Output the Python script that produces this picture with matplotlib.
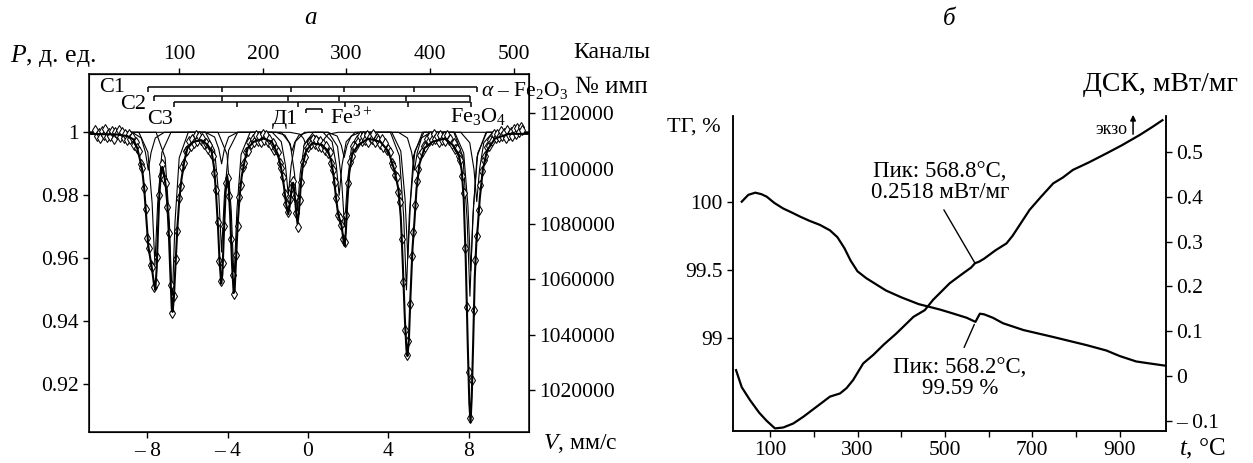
import numpy as np
import matplotlib
matplotlib.use("Agg")
import matplotlib.pyplot as plt

plt.rcParams['font.family'] = ['Liberation Serif', 'DejaVu Serif']
plt.rcParams['mathtext.fontset'] = 'custom'
plt.rcParams['mathtext.rm'] = 'Liberation Serif'
plt.rcParams['mathtext.it'] = 'Liberation Serif:italic'
plt.rcParams['font.size'] = 15

# ---------------- (a) Mossbauer spectrum ----------------
# channel -> velocity calibration (read from the two scales)
CH_V0 = -10.585
CH_DV = 0.04167
channels = np.arange(0, 512, 2)

exp_p = [
    1.0007, 0.9987, 0.9999, 0.9981, 1.0004, 0.9992, 1.0010, 0.9984, 0.9997, 0.9989, 1.0005, 0.9980, 1.0001, 0.9993, 1.0008, 0.9986,
    1.0002, 0.9982, 0.9994, 0.9975, 0.9993, 0.9979, 0.9986, 0.9961, 0.9968, 0.9949, 0.9941, 0.9898, 0.9886, 0.9822, 0.9757, 0.9665,
    0.9632, 0.9578, 0.9571, 0.9508, 0.9522, 0.9603, 0.9801, 0.9862, 0.9898, 0.9851, 0.9838, 0.9762, 0.9681, 0.9517, 0.9428, 0.9480,
    0.9598, 0.9688, 0.9792, 0.9831, 0.9889, 0.9903, 0.9941, 0.9943, 0.9972, 0.9958, 0.9979, 0.9966, 0.9991, 0.9973, 0.9987, 0.9974,
    0.9982, 0.9962, 0.9967, 0.9948, 0.9959, 0.9933, 0.9925, 0.9872, 0.9818, 0.9714, 0.9593, 0.9528, 0.9584, 0.9702, 0.9838, 0.9855,
    0.9797, 0.9663, 0.9548, 0.9487, 0.9612, 0.9702, 0.9796, 0.9833, 0.9891, 0.9902, 0.9937, 0.9941, 0.9969, 0.9962, 0.9978, 0.9969,
    0.9992, 0.9973, 0.9988, 0.9968, 0.9993, 0.9977, 0.9990, 0.9969, 0.9978, 0.9961, 0.9966, 0.9944, 0.9947, 0.9936, 0.9902, 0.9886,
    0.9857, 0.9803, 0.9772, 0.9748, 0.9788, 0.9822, 0.9846, 0.9795, 0.9745, 0.9698, 0.9786, 0.9843, 0.9905, 0.9922, 0.9957, 0.9953,
    0.9968, 0.9962, 0.9979, 0.9964, 0.9975, 0.9958, 0.9971, 0.9952, 0.9963, 0.9944, 0.9956, 0.9933, 0.9937, 0.9904, 0.9879, 0.9842,
    0.9792, 0.9738, 0.9727, 0.9706, 0.9663, 0.9652, 0.9738, 0.9838, 0.9907, 0.9924, 0.9957, 0.9952, 0.9975, 0.9968, 0.9987, 0.9973,
    0.9989, 0.9974, 0.9992, 0.9970, 0.9986, 0.9979, 0.9994, 0.9968, 0.9983, 0.9976, 0.9963, 0.9978, 0.9952, 0.9965, 0.9943, 0.9946,
    0.9938, 0.9903, 0.9892, 0.9864, 0.9857, 0.9812, 0.9778, 0.9662, 0.9524, 0.9372, 0.9294, 0.9338, 0.9455, 0.9607, 0.9683, 0.9768,
    0.9846, 0.9884, 0.9927, 0.9938, 0.9958, 0.9953, 0.9978, 0.9971, 0.9989, 0.9974, 0.9993, 0.9978, 0.9987, 0.9969, 0.9991, 0.9976,
    0.9988, 0.9972, 0.9991, 0.9975, 0.9978, 0.9962, 0.9967, 0.9946, 0.9948, 0.9924, 0.9913, 0.9862, 0.9806, 0.9632, 0.9445, 0.9238,
    0.9092, 0.9213, 0.9437, 0.9594, 0.9672, 0.9755, 0.9832, 0.9876, 0.9913, 0.9926, 0.9954, 0.9957, 0.9976, 0.9973, 0.9994, 0.9982,
    0.9996, 0.9984, 1.0003, 0.9988, 0.9999, 0.9983, 1.0006, 0.9991, 1.0002, 0.9987, 1.0010, 0.9995, 1.0015, 1.0001, 1.0018, 1.0006,
]

# fitted envelope
env_v = [-10.9, -9.5, -9.0, -8.7, -8.5, -8.35, -8.25, -8.15, -8.05, -7.95, -7.85, -7.75, -7.67, -7.6,
         -7.53, -7.46, -7.4, -7.32, -7.25, -7.17, -7.08, -7.0, -6.92, -6.85, -6.78, -6.74, -6.68, -6.6,
         -6.5, -6.4, -6.3, -6.15, -6.0, -5.7, -5.3, -5.0, -4.8, -4.68, -4.58, -4.48, -4.4, -4.32, -4.26,
         -4.18, -4.1, -4.02, -3.95, -3.87, -3.78, -3.7, -3.65, -3.58, -3.5, -3.4, -3.3, -3.15, -3.0, -2.7,
         -2.2, -1.8, -1.5, -1.35, -1.2, -1.08, -0.98, -0.9, -0.8, -0.74, -0.66, -0.58, -0.52, -0.45, -0.35,
         -0.25, -0.1, 0.2, 0.7, 1.0, 1.15, 1.28, 1.4, 1.5, 1.6, 1.68, 1.76, 1.82, 1.88, 1.95, 2.05, 2.2,
         2.5, 3.0, 3.6, 4.0, 4.3, 4.5, 4.62, 4.72, 4.82, 4.9, 4.95, 5.02, 5.1, 5.2, 5.3, 5.4, 5.55, 5.8,
         6.2, 6.8, 7.2, 7.5, 7.65, 7.75, 7.85, 7.95, 8.03, 8.09, 8.15, 8.22, 8.3, 8.38, 8.45, 8.55, 8.7,
         8.9, 9.3, 10.0, 11.0]
env_p = [0.9995, 0.9993, 0.9988, 0.9978, 0.995, 0.991, 0.988, 0.982, 0.973, 0.964, 0.960, 0.956, 0.952, 0.950,
         0.957, 0.970, 0.980, 0.987, 0.989, 0.987, 0.983, 0.977, 0.967, 0.955, 0.944, 0.943, 0.947, 0.957,
         0.970, 0.979, 0.985, 0.991, 0.995, 0.997, 0.9975, 0.996, 0.994, 0.989, 0.981, 0.970, 0.959, 0.952, 0.955,
         0.969, 0.981, 0.986, 0.983, 0.973, 0.958, 0.949, 0.950, 0.960, 0.971, 0.980, 0.986, 0.991, 0.995, 0.997,
         0.998, 0.997, 0.993, 0.989, 0.983, 0.977, 0.974, 0.977, 0.983, 0.984, 0.980, 0.974, 0.971, 0.975, 0.984,
         0.990, 0.994, 0.9965, 0.996, 0.994, 0.991, 0.986, 0.979, 0.974, 0.972, 0.970, 0.966, 0.964, 0.968, 0.977, 0.987, 0.993,
         0.996, 0.998, 0.997, 0.994, 0.988, 0.982, 0.973, 0.958, 0.941, 0.931, 0.929, 0.934, 0.948, 0.963, 0.972, 0.982, 0.990, 0.995,
         0.997, 0.998, 0.996, 0.993, 0.988, 0.979, 0.960, 0.933, 0.914, 0.908, 0.916, 0.933, 0.954, 0.965, 0.970, 0.979, 0.988,
         0.994, 0.998, 0.9995, 0.9995]

# sub-spectra
c1_v = [-10.9, -8.75, -8.30, -8.09, -7.95, -7.81, -7.60, -7.15, -5.10, -4.65, -4.44, -4.30, -4.16, -3.95, -3.50,
        -1.60, -1.15, -0.94, -0.80, -0.66, -0.45, 0.00, 1.00, 1.45, 1.66, 1.80, 1.94, 2.15, 2.60,
        4.50, 4.95, 5.16, 5.30, 5.44, 5.65, 6.10, 7.60, 8.05, 8.26, 8.40, 8.54, 8.75, 9.20, 11.0]
c1_p = [1, 1, .9982, .9936, .988, .9936, .9982, 1, 1, .9985, .9947, .990, .9947, .9985, 1,
        1, .9991, .9968, .994, .9968, .9991, 1, 1, .9988, .9958, .992, .9958, .9988, 1,
        1, .9982, .9936, .988, .9936, .9982, 1, 1, .9967, .9883, .978, .9883, .9967, 1, 1]
c2_v = [-10.9, -8.42, -7.97, -7.76, -7.62, -7.48, -7.27, -6.82, -5.10, -4.65, -4.44, -4.30, -4.16, -3.95, -3.50,
        -1.78, -1.33, -1.12, -0.98, -0.84, -0.63, -0.18, 0.75, 1.20, 1.41, 1.55, 1.69, 1.90, 2.35,
        4.10, 4.55, 4.76, 4.90, 5.04, 5.25, 5.70, 7.26, 7.71, 7.92, 8.06, 8.20, 8.41, 8.86, 11.0]
c2_p = [1, 1, .9937, .9777, .958, .9777, .9937, 1, 1, .9943, .9799, .962, .9799, .9943, 1,
        1, .997, .9894, .980, .9894, .997, 1, 1, .997, .9894, .980, .9894, .997, 1,
        1, .9925, .9735, .950, .9735, .9925, 1, 1, .9922, .9724, .948, .9724, .9922, 1, 1]
c3_v = [-10.9, -7.56, -7.11, -6.90, -6.76, -6.62, -6.41, -5.96, -4.48, -4.03, -3.82, -3.68, -3.54, -3.33, -2.88,
        -1.33, -0.88, -0.67, -0.53, -0.39, -0.18, 0.27, 1.02, 1.47, 1.68, 1.82, 1.96, 2.17, 2.62,
        4.17, 4.62, 4.83, 4.97, 5.11, 5.32, 5.77, 7.30, 7.75, 7.96, 8.10, 8.24, 8.45, 8.90, 11.0]
c3_p = [1, 1, .9919, .9714, .946, .9714, .9919, 1, 1, .993, .9751, .953, .9751, .993, 1,
        1, .9963, .9868, .975, .9868, .9963, 1, 1, .9955, .9841, .970, .9841, .9955, 1,
        1, .994, .9788, .960, .9788, .994, 1, 1, .9934, .9767, .956, .9767, .9934, 1, 1]
d1_v = [-10.9, -0.9, -0.4, -0.22, -0.1, 0.02, 0.3, 0.58, 0.7, 0.82, 1.0, 1.5, 11.0]
d1_p = [1, 1, .9994, .998, .996, .998, .9990, .998, .996, .998, .9994, 1, 1]

# stick diagrams of the sextets (line positions, mm/s)
stick_c1 = [-7.95, -4.29, -0.85, 1.79, 5.27, 8.39]
stick_c2 = [-7.65, -4.29, -0.98, 1.56, 4.88, 8.06]
stick_c3 = [-6.67, -3.55, -0.51, 1.84, 5.00, 8.09]
stick_d1 = [-0.1, 0.7]

# ---------------- (b) TG / DSC ----------------
tg_t = [35, 50, 66, 80, 92, 110, 130, 150, 169, 190, 214, 237, 254, 270, 284, 300, 320, 335, 365, 400,
        440, 489, 520, 550, 570, 575, 580, 590, 610, 633, 680, 747, 824, 870, 900, 938, 970, 1003]
tg_v = [100.00, 100.05, 100.066, 100.055, 100.037, 99.99, 99.95, 99.92, 99.89, 99.86, 99.83, 99.79,
        99.74, 99.66, 99.57, 99.49, 99.44, 99.41, 99.35, 99.30, 99.25, 99.21, 99.18, 99.15, 99.12,
        99.15, 99.18, 99.175, 99.15, 99.11, 99.06, 99.01, 98.95, 98.91, 98.87, 98.83, 98.815, 98.80]
tg_peak = 24

dsc_t = [22, 35, 54, 75, 92, 111, 130, 153, 176, 214, 237, 260, 275, 290, 313, 336, 360, 389, 428, 454,
         473, 511, 540, 560, 569, 578, 590, 615, 641, 655, 694, 720, 748, 770, 793, 830, 870, 905, 946,
         975, 998]
dsc_v = [0.013, -0.025, -0.054, -0.082, -0.100, -0.117, -0.115, -0.106, -0.091, -0.063, -0.046, -0.039,
         -0.027, -0.009, 0.028, 0.047, 0.070, 0.095, 0.132, 0.147, 0.170, 0.207, 0.228, 0.242, 0.2518,
         0.255, 0.262, 0.280, 0.296, 0.313, 0.371, 0.400, 0.430, 0.443, 0.460, 0.477, 0.497, 0.515,
         0.538, 0.556, 0.571]
dsc_peak = 24

W, H = 1253, 463
fig = plt.figure(figsize=(W / 100, H / 100), dpi=100)

# ===== panel a =====
ax = fig.add_axes([89 / W, 1 - 431.7 / H, 440 / W, 357.4 / H])
v_exp = channels * CH_DV + CH_V0
for cv, cp in [(c1_v, c1_p), (c2_v, c2_p), (c3_v, c3_p), (d1_v, d1_p)]:
    ax.plot(cv, cp, color='black', lw=0.8, zorder=2)
ax.plot(v_exp, exp_p, linestyle='none', marker='d', ms=5, mfc='white', mec='black', mew=0.75, zorder=3)
ax.plot(env_v, env_p, color='black', lw=1.5, zorder=4)

ax.set_xlim(-10.9, 11.0)
ax.set_ylim(0.905, 1.0184)
ax.set_xticks([-8, -4, 0, 4, 8])
ax.set_xticklabels(['– 8', '– 4', '0', '4', '8'])
ax.set_yticks([0.92, 0.94, 0.96, 0.98, 1.0])
ax.set_yticklabels(['0.92', '0.94', '0.96', '0.98', '1'])
ax.tick_params(direction='out', length=4, width=1, labelsize=15.5, top=False)
for s in ax.spines.values():
    s.set_linewidth(1.1)

# stick diagrams
tick_len = 0.0016
for sticks, lev in [(stick_c1, 1.0145), (stick_c2, 1.0115), (stick_c3, 1.0095)]:
    ax.hlines(lev, sticks[0], sticks[-1], color='black', lw=1.1)
    ax.vlines(sticks, lev - tick_len, lev, color='black', lw=1.1)
ax.hlines(1.0073, stick_d1[0], stick_d1[1], color='black', lw=1.1)
ax.vlines(stick_d1, 1.0073 - 0.0013, 1.0073, color='black', lw=1.1)

ax.text(-9.75, 1.0142, 'С1', ha='center', va='center', fontsize=16)
ax.text(-8.71, 1.0087, 'С2', ha='center', va='center', fontsize=16)
ax.text(-7.36, 1.0039, 'С3', ha='center', va='center', fontsize=16)
ax.text(-1.14, 1.0042, 'Д1', ha='center', va='center', fontsize=16)
ax.text(1.09, 1.0049, 'Fe$^{3+}$', ha='left', va='center', fontsize=16)
ax.text(8.46, 1.0049, 'Fe$_3$O$_4$', ha='center', va='center', fontsize=16)
ax.text(8.62, 1.0134, r'$\alpha$ – Fe$_2$O$_3$', ha='left', va='center', fontsize=15.5)

ax.text(1.105, 0.964, '№ имп', transform=ax.transAxes, ha='left', va='center', fontsize=18)
ax.text(1.1, 1.06, 'Каналы', transform=ax.transAxes, ha='left', va='center', fontsize=17)
ax.text(-0.18, 1.051, '$P$, д. ед.', transform=ax.transAxes, ha='left', va='center', fontsize=18.5)
ax.text(1.116, -0.034, '$V$, мм/с', transform=ax.transAxes, ha='center', va='center', fontsize=17)
ax.text(0.505, 1.158, '$a$', transform=ax.transAxes, ha='center', va='center', fontsize=18)

sec = ax.secondary_xaxis('top', functions=(lambda v: (v - CH_V0) / CH_DV, lambda c: c * CH_DV + CH_V0))
sec.set_xticks([100, 200, 300, 400, 500])
sec.tick_params(direction='out', length=4, width=1, labelsize=15.5)

axc = ax.twinx()
axc.set_ylim(1004900, 1134100)
cnt_ticks = [1020000, 1040000, 1060000, 1080000, 1100000, 1120000]
axc.set_yticks(cnt_ticks)
axc.set_yticklabels([str(c) for c in cnt_ticks])
axc.tick_params(direction='out', length=4, width=1, labelsize=15.5)

# ===== panel b =====
bx = fig.add_axes([733 / W, 1 - 431 / H, 432.5 / W, 315.5 / H])
bx.plot(tg_t, tg_v, color='black', lw=1.6)
bx.set_xlim(15, 1005)
bx.set_ylim(98.321, 100.631)
bx.set_yticks([99, 99.5, 100])
bx.set_yticklabels(['99', '99.5', '100'])
bx.set_xticks(range(100, 1000, 100))
bx.set_xticklabels([str(t) if t % 200 == 100 else '' for t in range(100, 1000, 100)])
bx.spines['top'].set_visible(False)
bx.tick_params(direction='out', length=4, width=1, labelsize=15.5)

bxr = bx.twinx()
bxr.plot(dsc_t, dsc_v, color='black', lw=1.6)
bxr.set_ylim(-0.1228, 0.5815)
bxr.set_yticks([-0.1, 0, 0.1, 0.2, 0.3, 0.4, 0.5])
bxr.set_yticklabels(['– 0.1', '0', '0.1', '0.2', '0.3', '0.4', '0.5'])
bxr.spines['top'].set_visible(False)
bxr.tick_params(direction='out', length=4, width=1, labelsize=15.5)
for s in list(bx.spines.values()) + list(bxr.spines.values()):
    s.set_linewidth(1.1)

bxr.annotate('Пик: 568.8°С,\n0.2518 мВт/мг', xy=(dsc_t[dsc_peak], dsc_v[dsc_peak]),
             xytext=(0.479, 0.789), textcoords='axes fraction', ha='center', va='center',
             linespacing=1.05, fontsize=16.5,
             arrowprops=dict(arrowstyle='-', lw=1, color='black', shrinkA=3, shrinkB=0, relpos=(0.5, 0)))
bx.annotate('Пик: 568.2°С,\n99.59 %', xy=(tg_t[tg_peak], tg_v[tg_peak]),
            xytext=(0.525, 0.168), textcoords='axes fraction', ha='center', va='center',
            linespacing=1.05, fontsize=16.5,
            arrowprops=dict(arrowstyle='-', lw=1, color='black', shrinkA=5, shrinkB=2, relpos=(0.5, 1)))

bx.text(-0.028, 0.962, 'ТГ, %', transform=bx.transAxes, ha='right', va='center', fontsize=16)
bx.text(0.809, 1.097, 'ДСК, мВт/мг', transform=bx.transAxes, ha='left', va='center', fontsize=20)
bx.text(1.085, -0.058, '$t$, °С', transform=bx.transAxes, ha='center', va='center', fontsize=18)
bx.text(0.502, 1.309, '$б$', transform=bx.transAxes, ha='center', va='center', fontsize=18)
bx.text(0.913, 0.957, 'экзо', transform=bx.transAxes, ha='right', va='center', fontsize=13)
bx.annotate('', xy=(0.925, 1.011), xytext=(0.925, 0.932), xycoords='axes fraction',
            textcoords='axes fraction', annotation_clip=False,
            arrowprops=dict(arrowstyle='-|>', lw=1.1, color='black', mutation_scale=8))

fig.savefig('out.png', dpi=100)
